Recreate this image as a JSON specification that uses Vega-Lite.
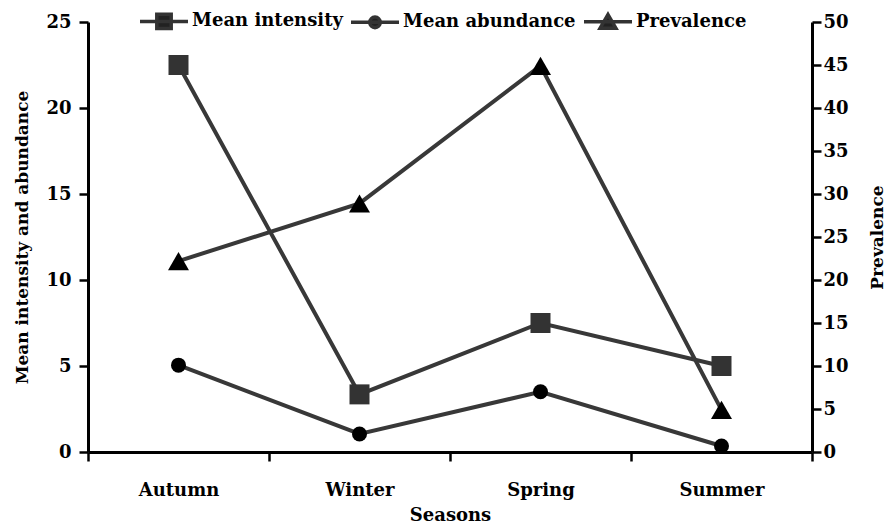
{
  "$schema": "https://vega.github.io/schema/vega-lite/v6.json",
  "width": 724,
  "height": 430,
  "autosize": {"type": "none"},
  "padding": {"left": 88, "top": 22, "right": 75, "bottom": 73},
  "background": "white",
  "config": {"view": {"stroke": null}, "font": "DejaVu Serif"},
  "data": {
    "values": [
      {"season": "Autumn", "series": "Mean intensity", "value": 22.5},
      {"season": "Winter", "series": "Mean intensity", "value": 3.35},
      {"season": "Spring", "series": "Mean intensity", "value": 7.5},
      {"season": "Summer", "series": "Mean intensity", "value": 5.0},
      {"season": "Autumn", "series": "Mean abundance", "value": 5.05},
      {"season": "Winter", "series": "Mean abundance", "value": 1.05},
      {"season": "Spring", "series": "Mean abundance", "value": 3.5},
      {"season": "Summer", "series": "Mean abundance", "value": 0.35},
      {"season": "Autumn", "series": "Prevalence", "value": 22.2},
      {"season": "Winter", "series": "Prevalence", "value": 28.9},
      {"season": "Spring", "series": "Prevalence", "value": 44.9},
      {"season": "Summer", "series": "Prevalence", "value": 4.9}
    ]
  },
  "encoding": {
    "x": {
      "field": "season",
      "type": "nominal",
      "sort": ["Autumn", "Winter", "Spring", "Summer"],
      "scale": {"type": "band", "paddingInner": 0, "paddingOuter": 0},
      "axis": {
        "title": "Seasons",
        "tickBand": "extent",
        "labelAngle": 0,
        "domainColor": "black",
        "domainWidth": 3,
        "tickColor": "black",
        "tickWidth": 2.5,
        "tickSize": 9,
        "labelFont": "DejaVu Serif",
        "labelFontSize": 18,
        "labelFontWeight": "bold",
        "labelColor": "black",
        "labelPadding": 20,
        "titleFont": "DejaVu Serif",
        "titleFontSize": 18,
        "titleFontWeight": "bold",
        "titleColor": "black",
        "titlePadding": 7,
        "grid": false
      }
    }
  },
  "layer": [
    {
      "transform": [{"filter": "datum.series !== 'Prevalence'"}],
      "encoding": {
        "y": {
          "field": "value",
          "type": "quantitative",
          "scale": {"domain": [0, 25]},
          "axis": {
            "orient": "left",
            "title": "Mean intensity and abundance",
            "values": [0, 5, 10, 15, 20, 25],
            "domainColor": "black",
            "domainWidth": 3,
            "tickColor": "black",
            "tickWidth": 2.5,
            "tickSize": 9,
            "labelFont": "DejaVu Serif",
            "labelFontSize": 18,
            "labelFontWeight": "bold",
            "labelColor": "black",
            "labelPadding": 8,
            "titleFont": "DejaVu Serif",
            "titleFontSize": 17,
            "titleFontWeight": "bold",
            "titleColor": "black",
            "titlePadding": 14,
            "grid": false
          }
        }
      },
      "layer": [
        {
          "mark": {"type": "line", "strokeWidth": 4, "color": "#383838"},
          "encoding": {"detail": {"field": "series"}}
        },
        {
          "transform": [{"filter": "datum.series === 'Mean intensity'"}],
          "mark": {"type": "point", "shape": "square", "size": 400, "filled": true, "opacity": 1, "color": "#333333"}
        },
        {
          "transform": [{"filter": "datum.series === 'Mean abundance'"}],
          "mark": {"type": "point", "shape": "circle", "size": 225, "filled": true, "opacity": 1, "color": "#000000"}
        },
        {
          "mark": {"type": "point", "filled": true, "color": "#222222", "stroke": "#333333", "strokeWidth": 3.5, "opacity": 0, "size": 2304},
          "encoding": {
            "shape": {
              "field": "series",
              "type": "nominal",
              "scale": {
                "domain": ["Mean intensity", "Mean abundance", "Prevalence"],
                "range": [
                  "M-1,0H1M-0.3,-0.3H0.3V0.3H-0.3Z",
                  "M-1,0H1M-0.22,0A0.22,0.22,0,1,1,0.22,0A0.22,0.22,0,1,1,-0.22,0Z",
                  "M-1,0H1M0,-0.3L0.33,0.27H-0.33Z"
                ]
              },
              "legend": {
                "title": null,
                "orient": "none",
                "direction": "horizontal",
                "legendX": 50,
                "legendY": -27,
                "padding": 0,
                "symbolSize": 2304,
                "symbolOpacity": 1,
                "symbolStrokeWidth": 3.5,
                "labelFont": "DejaVu Serif",
                "labelFontSize": 18,
                "labelFontWeight": "bold",
                "labelColor": "black",
                "labelLimit": 0,
                "labelOffset": 2,
                "columnPadding": 1
              }
            }
          }
        }
      ]
    },
    {
      "transform": [{"filter": "datum.series === 'Prevalence'"}],
      "encoding": {
        "y": {
          "field": "value",
          "type": "quantitative",
          "scale": {"domain": [0, 50]},
          "axis": {
            "orient": "right",
            "title": "Prevalence",
            "values": [0, 5, 10, 15, 20, 25, 30, 35, 40, 45, 50],
            "domainColor": "black",
            "domainWidth": 3,
            "tickColor": "black",
            "tickWidth": 2.5,
            "tickSize": 9,
            "labelFont": "DejaVu Serif",
            "labelFontSize": 18,
            "labelFontWeight": "bold",
            "labelColor": "black",
            "labelPadding": 2,
            "titleFont": "DejaVu Serif",
            "titleFontSize": 17,
            "titleFontWeight": "bold",
            "titleColor": "black",
            "titleAngle": 270,
            "titlePadding": 38,
            "grid": false
          }
        }
      },
      "layer": [
        {
          "mark": {"type": "line", "strokeWidth": 4, "color": "#383838"},
          "encoding": {}
        },
        {
          "mark": {"type": "point", "shape": "triangle-up", "size": 440, "filled": true, "opacity": 1, "color": "#000000"}
        }
      ]
    }
  ],
  "resolve": {"scale": {"y": "independent"}}
}
